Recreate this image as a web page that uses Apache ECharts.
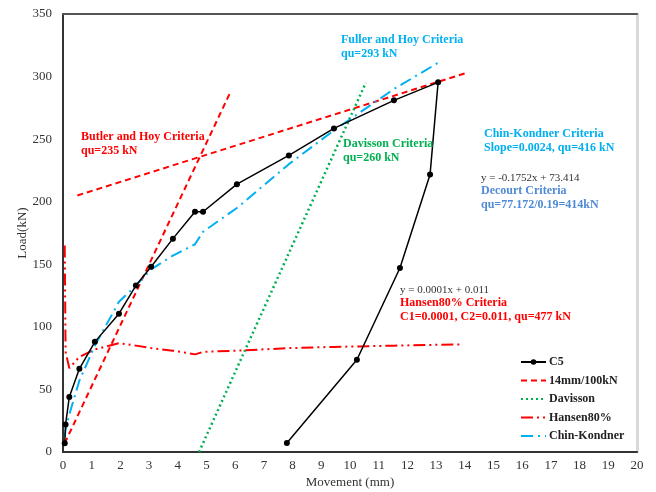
<!DOCTYPE html>
<html>
<head>
<meta charset="utf-8">
<script src="https://cdn.jsdelivr.net/npm/echarts@6/dist/echarts.min.js"></script>
<style>html,body{margin:0;padding:0;background:#fff}#main{width:656px;height:492px}</style>
</head>
<body>
<div id="main"></div>
<script>
// ---- data ----
const c5X = [0.06, 0.09, 0.22, 0.57, 1.11, 1.95, 2.54, 3.07, 3.83, 4.6, 4.88, 6.06, 7.87, 9.44, 11.53, 13.07, 12.79, 11.74, 10.24, 7.8];
const c5Y = [7, 22, 44, 66.5, 88, 110.5, 133, 148, 170.5, 192, 192, 214, 237, 258.6, 281, 295.4, 221.8, 147, 73.7, 7.2];

const elasticX = [0.06, 5.82];
const elasticY = [7, 287];
const offsetX = [0.5, 14];
const offsetY = [205, 302.5];

const davX = [4.74, 10.55];
const davY = [0, 295];

const hansenX = [0.06, 0.09, 0.22, 0.57, 1.11, 1.95, 2.54, 3.07, 3.83, 4.6, 4.88, 6.06, 7.87, 9.44, 11.53, 13.9];
const hansenY = [165, 80, 67, 76, 82, 87, 85, 83, 81, 78, 80, 81, 83, 84, 85, 86];

const chinX = [0.06, 0.09, 0.22, 0.57, 1.11, 1.95, 2.54, 3.07, 3.83, 4.6, 4.88, 6.06, 7.87, 9.44, 11.53, 13.07];
const chinY = [12, 18, 30, 57, 85, 120, 133, 146, 157, 166, 176, 195, 230, 257, 290, 311];

const seriesNames = ['C5', '14mm/100kN', 'Davisson', 'Hansen80%', 'Chin-Kondner'];

const zip = (xs, ys) => xs.map((x, i) => [x, ys[i]]);

const RED = '#ff0000', GREEN = '#00b050', CYAN = '#00b0f0', BLUE = '#4f8ad6';
const FONT = '"Liberation Serif", "Times New Roman", serif';

const chart = echarts.init(document.getElementById('main'));

function note(left, top, lines, color, weight, size) {
  return {
    type: 'text', left: left, top: top, z: 100,
    style: { text: lines.join('\n'), fill: color, font: `${weight} ${size}px ${FONT}`, lineHeight: 14 }
  };
}

chart.setOption({
  animation: false,
  backgroundColor: '#fff',
  grid: { left: 63, right: 19, top: 14, bottom: 40, containLabel: false, outerBoundsMode: 'none' },
  xAxis: [{
    type: 'value', min: 0, max: 20, interval: 1,
    name: 'Movement (mm)', nameLocation: 'middle', nameGap: 24, nameMoveOverlap: false,
    nameTextStyle: { fontFamily: FONT, fontSize: 13, color: '#333' },
    axisLine: { lineStyle: { color: '#333', width: 2 } },
    axisTick: { show: false },
    splitLine: { show: false },
    axisLabel: { fontFamily: FONT, fontSize: 13, color: '#333', margin: 7 }
  }, {
    type: 'value', min: 0, max: 20, position: 'top',
    axisLine: { show: true, onZero: false, lineStyle: { color: '#555', width: 2 } },
    axisTick: { show: false }, axisLabel: { show: false }, splitLine: { show: false }
  }],
  yAxis: [{
    type: 'value', min: 0, max: 350, interval: 50,
    name: 'Load(kN)', nameLocation: 'middle', nameGap: 34, nameMoveOverlap: false,
    nameTextStyle: { fontFamily: FONT, fontSize: 13, color: '#333' },
    axisLine: { show: true, lineStyle: { color: '#333', width: 2 } },
    axisTick: { show: false },
    splitLine: { show: false },
    axisLabel: { fontFamily: FONT, fontSize: 13, color: '#333', margin: 11 }
  }, {
    type: 'value', min: 0, max: 350, position: 'right',
    axisLine: { show: true, onZero: false, lineStyle: { color: '#d9d9d9', width: 3 } },
    axisTick: { show: false }, axisLabel: { show: false }, splitLine: { show: false }
  }],
  legend: {
    orient: 'vertical', left: 515, top: 350,
    itemWidth: 25, itemHeight: 7, itemGap: 4.5,
    data: seriesNames.map((n, i) => i === 0 ? { name: n } : { name: n, itemStyle: { opacity: 0 } }),
    textStyle: { fontFamily: FONT, fontSize: 12, fontWeight: 'bold', color: '#222', lineHeight: 14, padding: [0, 0, 0, -2] }
  },
  series: [
    {
      name: 'C5', type: 'line', data: zip(c5X, c5Y), z: 10,
      symbol: 'circle', symbolSize: 6,
      itemStyle: { color: '#000' }, lineStyle: { color: '#000', width: 1.5 }
    },
    {
      name: '14mm/100kN', type: 'line', data: zip(elasticX, elasticY), symbol: 'none',
      itemStyle: { color: RED }, lineStyle: { color: RED, width: 2, type: [6, 4] }
    },
    {
      name: '14mm/100kN', type: 'line', data: zip(offsetX, offsetY), symbol: 'none',
      itemStyle: { color: RED }, lineStyle: { color: RED, width: 2, type: [6, 4] }
    },
    {
      name: 'Davisson', type: 'line', data: zip(davX, davY), symbol: 'none',
      itemStyle: { color: GREEN }, lineStyle: { color: GREEN, width: 2.5, type: [2, 3] }
    },
    {
      name: 'Hansen80%', type: 'line', data: zip(hansenX, hansenY), symbol: 'none',
      itemStyle: { color: RED }, lineStyle: { color: RED, width: 2, type: [12, 4, 2, 4, 2, 4] }
    },
    {
      name: 'Chin-Kondner', type: 'line', data: zip(chinX, chinY), symbol: 'none',
      itemStyle: { color: CYAN }, lineStyle: { color: CYAN, width: 2, type: [12, 5, 2, 5] }
    }
  ],
  graphic: [
    note(81, 130, ['Butler and Hoy Criteria', 'qu=235 kN'], RED, 'bold', 12),
    note(341, 33, ['Fuller and Hoy Criteria', 'qu=293 kN'], CYAN, 'bold', 12),
    note(343, 137, ['Davisson Criteria', 'qu=260 kN'], GREEN, 'bold', 12),
    note(484, 127, ['Chin-Kondner Criteria', 'Slope=0.0024, qu=416 kN'], CYAN, 'bold', 12),
    note(481, 171, ['y = -0.1752x + 73.414'], '#333', 'normal', 11),
    note(481, 184, ['Decourt Criteria', 'qu=77.172/0.19=414kN'], BLUE, 'bold', 12),
    note(400, 283, ['y = 0.0001x + 0.011'], '#333', 'normal', 11),
    note(400, 296, ['Hansen80% Criteria', 'C1=0.0001, C2=0.011, qu=477 kN'], RED, 'bold', 12)
  ]
});
</script>
</body>
</html>
